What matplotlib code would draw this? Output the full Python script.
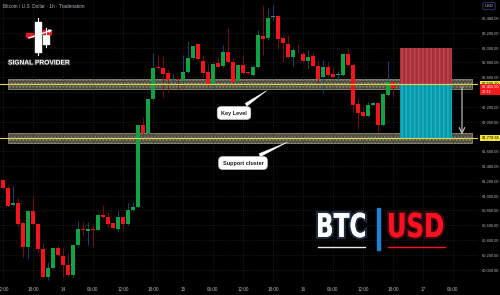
import matplotlib
matplotlib.use('Agg')
import matplotlib.pyplot as plt
import matplotlib.patheffects as pe
from matplotlib.patches import Rectangle, PathPatch
from matplotlib.textpath import TextPath
from matplotlib.font_manager import FontProperties
from matplotlib.transforms import Affine2D
from matplotlib.ticker import FuncFormatter

plt.rcParams['font.family'] = ['Liberation Sans', 'DejaVu Sans']

# hourly BTC/USD candles, index 0 = 13th 12:00
opens = [61204, 61105, 60875, 60902, 60632, 60308, 60794, 60619, 60281, 59903,
         60025, 60295, 60187, 60065, 59930, 60335, 60551, 60525, 60551, 60538,
         60740, 60713, 60632, 60551, 60713, 60619, 60808, 60848, 61955, 61847,
         62306, 62738, 62725, 62657, 62563, 62570, 62549, 62671, 62860, 63049,
         62819, 62671, 62495, 62792, 62752, 62941, 62806, 62549, 62765, 62671,
         62630, 62738, 63157, 63130, 63413, 63427, 63130, 63049, 62873, 62960,
         62914, 62819, 62887, 62752, 62603, 62738, 62644, 62630, 62630, 62914,
         62765, 62239, 62131, 62077, 62225, 62252, 61955, 62360, 62536]
highs = [61230, 61146, 61130, 60970, 60640, 60800, 60983, 60630, 60360, 60106,
         60310, 60322, 60295, 60230, 60350, 60660, 60645, 60645, 60605, 60750,
         60875, 60781, 60640, 60808, 60720, 60902, 60915, 61960, 62063, 62320,
         62927, 62900, 62887, 62700, 62640, 62590, 62900, 63090, 63030, 63060,
         62900, 62780, 62800, 62860, 63035, 63265, 62860, 62780, 62900, 62690,
         62760, 63238, 63575, 63535, 63575, 63440, 63157, 63170, 63009, 63050,
         62940, 62968, 62927, 62819, 62833, 62800, 62738, 62690, 62930, 63000,
         62790, 62320, 62200, 62266, 62266, 62266, 62390, 62819, 62550]
lows = [61090, 60850, 60862, 60590, 60173, 60150, 60600, 60240, 59890, 59863,
        60010, 60180, 59903, 59920, 59903, 60308, 60470, 60335, 60322, 60530,
        60700, 60580, 60550, 60511, 60540, 60600, 60790, 60835, 61830, 61830,
        62290, 62700, 62333, 62405, 62520, 62430, 62540, 62660, 62850, 62830,
        62600, 62480, 62480, 62720, 62740, 62790, 62520, 62530, 62640, 62640,
        62620, 62725, 62900, 63100, 63373, 62981, 62806, 62860, 62752, 62927,
        62800, 62711, 62740, 62522, 62387, 62610, 62590, 62560, 62620, 62750,
        62131, 61901, 62060, 62060, 62210, 61861, 61940, 62340, 62333]
closes = [61105, 60862, 60902, 60619, 60308, 60794, 60619, 60281, 59903, 60025,
          60295, 60200, 60065, 59930, 60335, 60551, 60538, 60551, 60530, 60740,
          60713, 60619, 60565, 60713, 60619, 60808, 60848, 61955, 61847, 62306,
          62725, 62725, 62644, 62563, 62570, 62560, 62671, 62860, 63022, 62846,
          62657, 62495, 62779, 62738, 62941, 62806, 62536, 62765, 62657, 62657,
          62738, 63170, 63116, 63400, 63427, 63116, 63062, 62873, 62968, 62950,
          62819, 62873, 62752, 62576, 62738, 62630, 62603, 62644, 62914, 62765,
          62225, 62117, 62077, 62225, 62252, 61955, 62374, 62536, 62455]

x_ticks = list(range(0, 91, 6))
x_labels = ['12:00', '18:00', '14', '06:00', '12:00', '18:00', '15', '06:00',
            '12:00', '18:00', '16', '06:00', '12:00', '18:00', '17', '06:00']
y_ticks = list(range(60000, 63401, 200))
hidden_ticks = [62400, 61800]  # covered by the price labels

key_level = 62508
support_level = 61780
target_top = 62995
current_price = 62455

GREEN = '#10a243'
RED = '#f4141c'
GRID = '#2a2a2a'
TXT = '#b2b5be'

fig = plt.figure(figsize=(5, 2.95), dpi=100, facecolor='black')
ax = fig.add_axes([0, 0.044, 0.956, 0.956])
ax.set_facecolor('black')
ax.set_xlim(-0.6, 95)
ax.set_ylim(59832, 63643)
for s in ax.spines.values():
    s.set_visible(False)

ax.yaxis.tick_right()
ax.set_yticks(y_ticks)
ax.yaxis.set_major_formatter(
    FuncFormatter(lambda v, p: '' if int(v) in hidden_ticks else f'{v:,.2f}'))
ax.set_xticks(x_ticks)
ax.set_xticklabels(x_labels)
ax.tick_params(axis='y', length=0, labelsize=2.9, labelcolor=TXT, pad=2.5)
ax.tick_params(axis='x', length=0, labelsize=3.3, labelcolor=TXT, pad=3.5)
ax.grid(color=GRID, linestyle=':', linewidth=0.5)

# candles
for i in range(len(opens)):
    o, h, l, c = opens[i], highs[i], lows[i], closes[i]
    up = c >= o
    ax.vlines(i, l, h, color='#16507a' if up else '#7d1416', lw=0.6, zorder=2)
    ax.bar(i, max(abs(c - o), 8), bottom=min(o, c), width=0.78,
           color=GREEN if up else RED, linewidth=0, zorder=3)

# key level / support bands
for lvl in [key_level, support_level]:
    ax.add_patch(Rectangle((1, lvl - 68), 92.8, 136, facecolor='#4b4a3e',
                           edgecolor='#8e8b78', hatch='.....', lw=0.6, zorder=1))
    ax.axhline(lvl, color='#e2d64a', lw=0.8, zorder=4)

# target boxes
ax.add_patch(Rectangle((79.4, key_level), 10.4, target_top - key_level,
                       facecolor='#a8303a', edgecolor='#c24a52', hatch='||||',
                       lw=0, zorder=2.5))
ax.add_patch(Rectangle((79.4, support_level), 10.4, key_level - support_level,
                       facecolor='#0a98a8', edgecolor='#1bb6c6', hatch='||||',
                       lw=0, zorder=2.5))
ax.annotate('', xy=(91.8, support_level + 10), xytext=(91.8, key_level),
            arrowprops=dict(arrowstyle='->', color='#c8c8c8', lw=0.8), zorder=5)

# callouts
for label, tip, box in [('Key Level', (53.2, 62440), (46.2, 62116)),
                        ('Support cluster', (57.4, 61738), (48.0, 61440))]:
    ax.annotate(label, xy=tip, xytext=box, fontsize=4, color='#1a1a1a',
                fontweight='bold', ha='center', va='center', zorder=6,
                bbox=dict(boxstyle='round,pad=0.7', fc='white', ec='#d0d0d0', lw=0.5),
                arrowprops=dict(arrowstyle='wedge,tail_width=0.6', fc='white',
                                ec='white', lw=0.3))

# price labels on the scale
yl = ax.get_yaxis_transform()
for price, txt in [(key_level, '62,508.20'), (support_level, '61,779.65')]:
    ax.text(1.007, price, txt, transform=yl, fontsize=2.9, color='black', va='center',
            ha='left', zorder=10, clip_on=False,
            bbox=dict(boxstyle='square,pad=0.3', fc='#f2e63c', ec='none'))
ax.text(1.007, current_price + 40, '62,455.50\n27:11', transform=yl, fontsize=2.9,
        color='white', va='top', ha='left', zorder=10, clip_on=False,
        linespacing=1.3, bbox=dict(boxstyle='square,pad=0.3', fc='#f21a1a', ec='none'))

# overlay in pixel coordinates for branding
ov = fig.add_axes([0, 0, 1, 1])
ov.set_xlim(0, 500)
ov.set_ylim(295, 0)
ov.axis('off')
ov.patch.set_alpha(0)

ov.text(3, 6, 'Bitcoin / U.S. Dollar · 1h · Tradenation', fontsize=3.4, color=TXT,
        va='center', ha='left')
ov.text(489, 6, 'USD', fontsize=3.0, color=TXT, ha='center', va='center',
        bbox=dict(boxstyle='round,pad=0.4', fc='black', ec='#2c3f7a', lw=0.6))

# logo
ov.plot([37.5, 37.5], [18, 55], color='white', lw=0.8)
ov.add_patch(Rectangle((34.5, 22), 6, 30, color='white'))
ov.plot([46, 46], [28, 47], color='white', lw=0.8)
ov.add_patch(Rectangle((43, 31), 6, 13, color='white'))
ov.annotate('', xy=(55, 29), xytext=(26, 39),
            arrowprops=dict(arrowstyle='-|>', color='white', lw=0.9, mutation_scale=4))
ov.add_patch(Rectangle((26, 32.5), 7, 4, color='#e01b24'))
ov.add_patch(Rectangle((42.5, 29.5), 8, 4, color='#e01b24'))
ov.text(39, 63, 'SIGNAL PROVIDER', fontsize=4.8, fontweight='bold', color='white',
        ha='center', va='center',
        path_effects=[pe.withStroke(linewidth=1.2, foreground='#333333')])


# BTC | USD, condensed by squeezing the glyph outlines
def squeezed_text(s, x0, x1, y_base, cap_h, color, glow):
    tp = TextPath((0, 0), s, size=10, prop=FontProperties(family='DejaVu Sans',
                                                          weight='bold'))
    ext = tp.get_extents()
    sx = (x1 - x0) / ext.width
    sy = cap_h / 7.3
    tr = Affine2D().translate(-ext.x0, 0).scale(sx, -sy).translate(x0, y_base)
    patch = PathPatch(tr.transform_path(tp), fc=color, ec='none', lw=0,
                      path_effects=[pe.withStroke(linewidth=3, foreground=glow),
                                    pe.Normal()])
    ov.add_patch(patch)


squeezed_text('BTC', 318, 365, 237, 24, 'white', '#1d2c3c')
squeezed_text('USD', 389, 443, 237, 24, '#ff1020', '#3a0a10')
ov.add_patch(Rectangle((376.5, 208), 3.5, 42, color='#1e82d6'))
ov.plot([318, 365], [246.5, 246.5], color='#e8e8e8', lw=1)
ov.plot([388, 445], [246.5, 246.5], color='#ff1020', lw=1)

fig.savefig('out.png', dpi=100, facecolor='black')
